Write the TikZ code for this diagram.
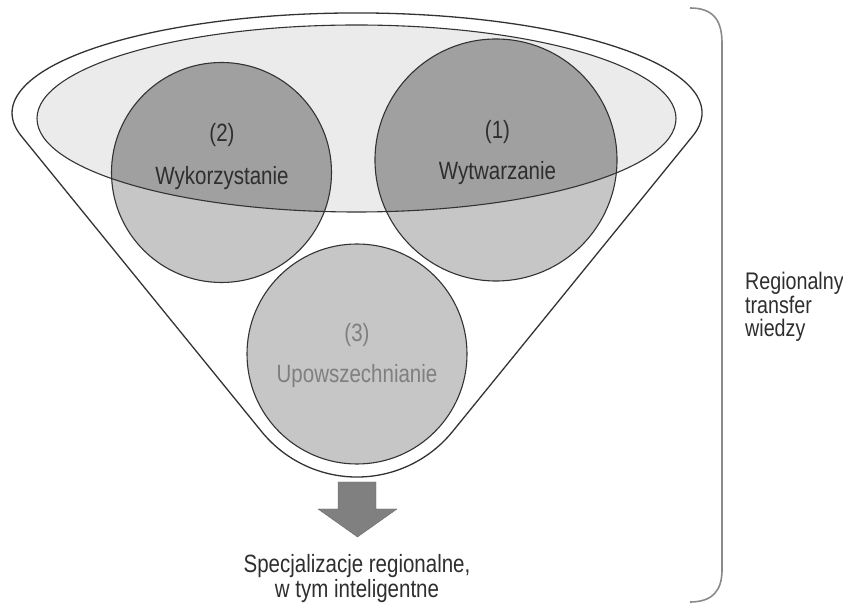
\documentclass[tikz,border=0pt]{standalone}
\usepackage{fontspec}
\newfontfamily\nf[FakeStretch=0.82]{Liberation Sans}
\definecolor{edge}{HTML}{333333}
\definecolor{poolfill}{HTML}{EBEBEB}
\definecolor{lightball}{HTML}{C6C6C6}
\definecolor{darkball}{HTML}{A0A0A0}
\definecolor{txt}{HTML}{2E2E2E}
\definecolor{txtlight}{HTML}{7F7F7F}
\definecolor{arrowc}{HTML}{808080}
\definecolor{bracec}{HTML}{8A8A8A}
\tikzset{
  funnel/.style={draw=edge, line width=1.3pt, fill=white},
  outline/.style={draw=edge, line width=1.1pt},
  lbl/.style={font=\nf\fontsize{25}{25}\selectfont, text=txt, inner sep=0pt, anchor=base},
  lbllight/.style={lbl, text=txtlight},
  side/.style={font=\nf\fontsize{24}{23.5}\selectfont, text=txt, inner sep=0pt, align=left},
}
\begin{document}
\begin{tikzpicture}[x=1pt,y=1pt]
\useasboundingbox (0,0) rectangle (843,605);
% funnel
\coordinate (lt) at (21.2,469.1);
\coordinate (lb) at (261.6,173.4);
\coordinate (rt) at (692.8,469.1);
\draw[funnel] (lt) -- (lb) arc[start angle=219.1,end angle=320.9,radius=123pt] -- (rt)
  arc[start angle=-13.26,end angle=193.26,x radius=345pt,y radius=100pt] -- cycle;
% pool ellipse
\coordinate (pool) at (356.5,486.5);
\fill[poolfill] (pool) ellipse[x radius=319.5pt, y radius=93.5pt];
% circles
\coordinate (c1) at (496,445);
\coordinate (c2) at (221.5,432.5);
\coordinate (c3) at (357,251);
\fill[lightball] (c1) circle[radius=121pt];
\fill[lightball] (c2) circle[radius=110pt];
\fill[lightball] (c3) circle[radius=110pt];
\begin{scope}
  \clip (pool) ellipse[x radius=319.5pt, y radius=93.5pt];
  \fill[darkball] (c1) circle[radius=121pt];
  \fill[darkball] (c2) circle[radius=110pt];
\end{scope}
\draw[outline] (c1) circle[radius=121pt];
\draw[outline] (c2) circle[radius=110pt];
\draw[outline] (c3) circle[radius=110pt];
\draw[outline] (pool) ellipse[x radius=319.5pt, y radius=93.5pt];
% labels
\node[lbl] (n1) at (497.5,466) {(1)};
\node[lbl] (w1) at (497.5,425) {Wytwarzanie};
\node[lbl] (n2) at (222,463) {(2)};
\node[lbl] (w2) at (222,420) {Wykorzystanie};
\node[lbllight] (n3) at (357,263) {(3)};
\node[lbllight] (w3) at (357,222) {Upowszechnianie};
% arrow
\fill[arrowc, draw=arrowc!85!black, line width=0.4pt] (338,123) -- (376,123) -- (376,96) -- (397,96) -- (357.5,68) -- (318,96) -- (338,96) -- cycle;
% bottom text
\node[lbl] (b1) at (357,33) {Specjalizacje regionalne,};
\node[lbl] (b2) at (357,8) {w tym inteligentne};
% brace
\draw[bracec, line width=1.6pt] (690,597) .. controls (713,597) and (722,585) .. (722,562) -- (722,35) .. controls (722,15) and (713,3) .. (690,3);
\node[side, anchor=base west] (rt1) at (745,315) {Regionalny};
\node[side, anchor=base west] (rt2) at (745,291.5) {transfer};
\node[side, anchor=base west] (rt3) at (745,268) {wiedzy};
\end{tikzpicture}
\end{document}
